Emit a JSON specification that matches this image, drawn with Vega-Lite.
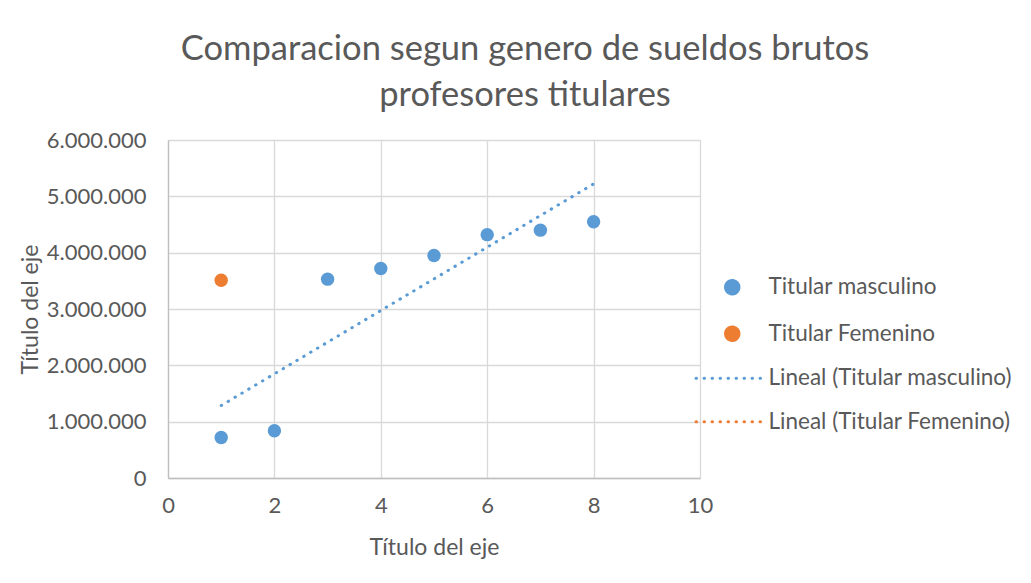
{
  "$schema": "https://vega.github.io/schema/vega-lite/v6.json",
  "autosize": "none",
  "width": 532,
  "height": 338,
  "padding": {"left": 168, "top": 140, "right": 331, "bottom": 105},
  "background": "white",
  "title": {
    "text": ["Comparacion segun genero de sueldos brutos", "profesores titulares"],
    "anchor": "middle",
    "frame": "group",
    "dx": 91,
    "offset": 16,
    "font": "Lato",
    "fontSize": 34.5,
    "fontWeight": "normal",
    "color": "#595959",
    "lineHeight": 46
  },
  "config": {
    "view": {"stroke": null},
    "font": "Lato",
    "axis": {
      "labelFont": "Lato",
      "titleFont": "Lato",
      "labelColor": "#595959",
      "titleColor": "#595959",
      "titleFontWeight": "normal",
      "gridColor": "#d9d9d9",
      "gridWidth": 1.3,
      "domainColor": "#bfbfbf",
      "domainWidth": 1.3,
      "ticks": false,
      "labelFlush": false
    }
  },
  "data": {
    "values": [
      {"x": 1, "y": 720000, "serie": "Titular masculino"},
      {"x": 2, "y": 840000, "serie": "Titular masculino"},
      {"x": 3, "y": 3530000, "serie": "Titular masculino"},
      {"x": 4, "y": 3720000, "serie": "Titular masculino"},
      {"x": 5, "y": 3950000, "serie": "Titular masculino"},
      {"x": 6, "y": 4320000, "serie": "Titular masculino"},
      {"x": 7, "y": 4400000, "serie": "Titular masculino"},
      {"x": 8, "y": 4550000, "serie": "Titular masculino"},
      {"x": 1, "y": 3510000, "serie": "Titular Femenino"}
    ]
  },
  "encoding": {
    "x": {
      "field": "x",
      "type": "quantitative",
      "scale": {"domain": [0, 10], "nice": false},
      "axis": {
        "values": [0, 2, 4, 6, 8, 10],
        "title": "Título del eje",
        "labelFontSize": 22,
        "titleFontSize": 23,
        "labelPadding": 17,
        "titlePadding": 20,
        "grid": true
      }
    },
    "y": {
      "field": "y",
      "type": "quantitative",
      "scale": {"domain": [0, 6000000], "nice": false},
      "axis": {
        "values": [0, 1000000, 2000000, 3000000, 4000000, 5000000, 6000000],
        "labelExpr": "replace(replace(format(datum.value, ','), ',', '.'), ',', '.')",
        "title": "Título del eje",
        "labelFontSize": 22,
        "titleFontSize": 23,
        "labelPadding": 22,
        "titlePadding": 4,
        "grid": true
      }
    },
    "color": {
      "field": "serie",
      "type": "nominal",
      "scale": {
        "domain": ["Titular masculino", "Titular Femenino", "Lineal (Titular masculino)", "Lineal (Titular Femenino)"],
        "range": ["#5b9bd5", "#ed7d31", "#5b9bd5", "#ed7d31"]
      },
      "legend": {
        "title": null,
        "orient": "none",
        "legendX": 553,
        "legendY": 136,
        "padding": 0,
        "symbolSize": 180,
        "labelFont": "Lato",
        "labelFontSize": 22.5,
        "labelColor": "#595959",
        "labelOffset": 25,
        "rowPadding": 20.5,
        "labelLimit": 400,
        "encode": {
          "symbols": {
            "update": {
              "shape": {"signal": "indexof(datum.value, 'Lineal') === 0 ? 'M-5.4,0H5.3' : 'circle'"},
              "fill": {"signal": "indexof(datum.value, 'Lineal') === 0 ? 'transparent' : scale('color', datum.value)"},
              "stroke": {"signal": "indexof(datum.value, 'Lineal') === 0 ? scale('color', datum.value) : 'transparent'"},
              "strokeWidth": {"value": 3},
              "strokeCap": {"value": "round"},
              "strokeDash": {"signal": "indexof(datum.value, 'Lineal') === 0 ? [0.5, 7.5] : [1, 0]"},
              "opacity": {"value": 1}
            }
          }
        }
      }
    }
  },
  "layer": [
    {
      "transform": [
        {"filter": "datum.serie === 'Titular masculino'"},
        {"regression": "y", "on": "x", "groupby": ["serie"], "method": "linear"}
      ],
      "mark": {"type": "line", "strokeWidth": 3, "strokeCap": "round", "strokeDash": [0.5, 7.5]}
    },
    {
      "mark": {"type": "point", "filled": true, "size": 180, "opacity": 1}
    }
  ]
}
